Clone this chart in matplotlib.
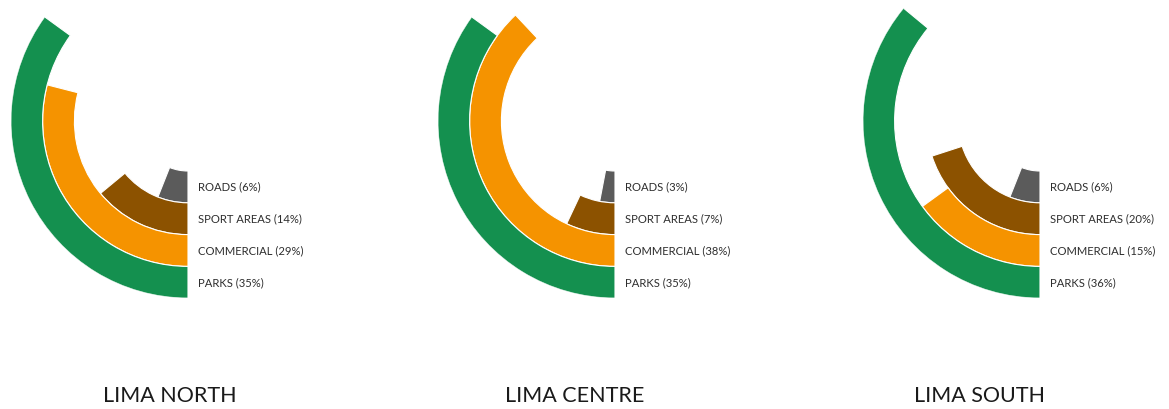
import numpy as np
import matplotlib
matplotlib.use("Agg")
import matplotlib.pyplot as plt

# land use share per district (percent)
districts = ["LIMA NORTH", "LIMA CENTRE", "LIMA SOUTH"]
categories = ["ROADS", "SPORT AREAS", "COMMERCIAL", "PARKS"]
roads = [6, 3, 6]
sport = [14, 7, 20]
commercial = [29, 38, 15]
parks = [35, 35, 36]

colors = ["#5b5b5b", "#8c5200", "#f59300", "#14904f"]

plt.rcParams['font.family'] = ['Lato', 'DejaVu Sans']

W, H = 1169, 409
fig = plt.figure(figsize=(W / 100, H / 100), dpi=100)

# ring geometry in pixels: hole radius, ring width, outer radius
r0 = 50
ring = 31.8
rmax = 177
cy = 121
centres_x = [188, 615, 1040]
title_x = [170, 575, 980]

for i, name in enumerate(districts):
    vals = [roads[i], sport[i], commercial[i], parks[i]]
    cx = centres_x[i]
    ax = fig.add_axes([(cx - rmax) / W, (H - cy - rmax) / H, 2 * rmax / W, 2 * rmax / H],
                      projection='polar')
    ax.set_theta_zero_location('S')
    ax.set_theta_direction(-1)
    ax.set_ylim(0, rmax)
    for k, v in enumerate(vals):
        theta = v / 100 * 2 * np.pi
        bottom = r0 + k * ring
        ax.bar(0, ring, width=theta, bottom=bottom, align='edge',
               color=colors[k], edgecolor='white', linewidth=0.8)
        ax.annotate(f"{categories[k]} ({v}%)", xy=(0, bottom + ring / 2),
                    xytext=(7.5, 0), textcoords='offset points',
                    va='center', ha='left', fontsize=8.1, color='#2e2e2e',
                    annotation_clip=False)
    ax.set_axis_off()
    fig.text(title_x[i] / W, 1 - 396 / H, name, ha='center', va='center',
             fontsize=15.5, color='#1a1a1a')

fig.savefig("out.png", dpi=100)
